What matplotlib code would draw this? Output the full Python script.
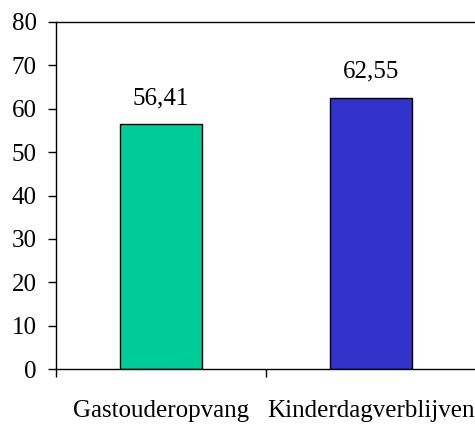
import matplotlib
matplotlib.use("Agg")
import matplotlib.pyplot as plt
from matplotlib.ticker import FixedLocator, NullFormatter

categories = ["Gastouderopvang", "Kinderdagverblijven"]
values = [56.41, 62.55]
value_labels = ["56,41", "62,55"]
colors = ["#00CC99", "#3333CC"]
yticks = [0, 10, 20, 30, 40, 50, 60, 70, 80]

plt.rcParams['font.family'] = ['Liberation Serif', 'DejaVu Serif']

fig = plt.figure(figsize=(4.75, 4.24), dpi=100)
W, H = 475, 424
ax = fig.add_axes([56 / W, 1 - 369 / H, (476 - 56) / W, (369 - 22) / H])

x = [0.5 + i for i in range(len(categories))]
bars = ax.bar(x, values, width=0.395, color=colors, edgecolor="black", linewidth=1)

for xi, v, lab in zip(x, values, value_labels):
    ax.annotate(lab, (xi, v), xytext=(0, 14.5), textcoords="offset points",
                ha="center", va="baseline", fontsize=18)

ax.set_xlim(0, 2)
ax.set_ylim(0, 80)
ax.set_yticks(yticks)
ax.tick_params(axis="y", direction="out", length=5.8, width=1, labelsize=18, pad=8)

ax.set_xticks(x)
ax.set_xticklabels(categories)
ax.tick_params(axis="x", which="major", length=0, labelsize=18, pad=22.5)
ax.xaxis.set_minor_locator(FixedLocator([0, 1, 2]))
ax.xaxis.set_minor_formatter(NullFormatter())
ax.tick_params(axis="x", which="minor", direction="out", length=5.8, width=1)

for s in ax.spines.values():
    s.set_linewidth(1)
    s.set_color("black")

fig.savefig("out.png", dpi=100)
